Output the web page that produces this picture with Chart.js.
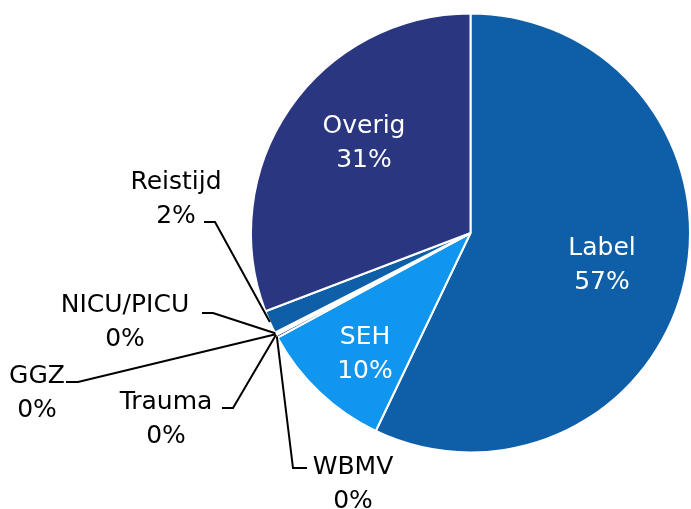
<!DOCTYPE html>
<html>
<head>
<meta charset="utf-8">
<script src="https://cdn.jsdelivr.net/npm/chart.js@4.4.1/dist/chart.umd.min.js"></script>
<style>
  html, body { margin: 0; padding: 0; background: #fff; }
  #wrap { width: 691px; height: 509px; }
</style>
</head>
<body>
<div id="wrap"><canvas id="pie"></canvas></div>
<script>
const labels = ['Label', 'SEH', 'WBMV', 'Trauma', 'GGZ', 'NICU/PICU', 'Reistijd', 'Overig'];
const shares = [57.1, 10.0, 0.2, 0.05, 0.05, 0.1, 1.7, 30.8];
const colors = ['#0e5fa8', '#1196f0', '#2b3a8a', '#2b3a8a', '#2b3a8a', '#2b3a8a', '#0e5fa8', '#2a3680'];

// white labels drawn inside the slice
const insideLabels = ['Label', 'SEH', 'Overig'];
const insidePos = { Label: [602, 265], SEH: [365, 354], Overig: [364, 143] };

// outside labels: text centre and elbow of the leader line
const outsidePos = {
  'Reistijd':  { text: [176, 199], elbow: [[204, 222], [215, 222]] },
  'NICU/PICU': { text: [125, 322], elbow: [[202, 313], [213, 313]] },
  'GGZ':       { text: [37, 393],  elbow: [[66, 382], [78, 382]] },
  'Trauma':    { text: [166, 419], elbow: [[222, 408], [233, 408]] },
  'WBMV':      { text: [353, 484], elbow: [[307, 468], [293, 468]] }
};

const total = shares.reduce((a, b) => a + b, 0);
const pct = v => Math.round(v / total * 100) + '%';

const labelPlugin = {
  id: 'pieLabels',
  afterDatasetsDraw(chart) {
    const ctx = chart.ctx;
    const arcs = chart.getDatasetMeta(0).data;
    ctx.save();
    ctx.font = '25px "DejaVu Sans", Verdana, sans-serif';
    ctx.textAlign = 'center';
    ctx.textBaseline = 'middle';
    labels.forEach((name, i) => {
      const arc = arcs[i];
      if (insideLabels.includes(name)) {
        const p = insidePos[name];
        ctx.fillStyle = '#ffffff';
        ctx.fillText(name, p[0], p[1] - 17);
        ctx.fillText(pct(shares[i]), p[0], p[1] + 17);
      } else {
        const o = outsidePos[name];
        const mid = (arc.startAngle + arc.endAngle) / 2;
        const ax = arc.x + Math.cos(mid) * arc.outerRadius;
        const ay = arc.y + Math.sin(mid) * arc.outerRadius;
        ctx.strokeStyle = '#000';
        ctx.lineWidth = 2;
        ctx.beginPath();
        ctx.moveTo(o.elbow[0][0], o.elbow[0][1]);
        ctx.lineTo(o.elbow[1][0], o.elbow[1][1]);
        ctx.lineTo(ax, ay);
        ctx.stroke();
        ctx.fillStyle = '#000';
        ctx.fillText(name, o.text[0], o.text[1] - 17);
        ctx.fillText(pct(shares[i]), o.text[0], o.text[1] + 17);
      }
    });
    ctx.restore();
  }
};

new Chart(document.getElementById('pie'), {
  type: 'pie',
  data: {
    labels: labels,
    datasets: [{
      data: shares,
      backgroundColor: colors,
      borderColor: '#ffffff',
      borderWidth: 2
    }]
  },
  options: {
    responsive: true,
    maintainAspectRatio: false,
    animation: false,
    layout: { padding: { left: 250, right: 0, top: 12, bottom: 55 } },
    plugins: {
      legend: { display: false },
      tooltip: { enabled: false }
    }
  },
  plugins: [labelPlugin]
});
</script>
</body>
</html>
